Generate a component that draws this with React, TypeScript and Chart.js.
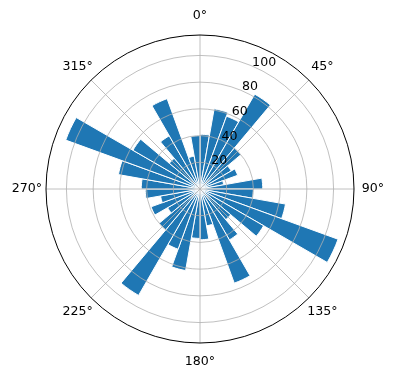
import React, { useEffect, useRef } from "react";
import { Chart, registerables } from "chart.js";

Chart.register(...registerables);

// 36 direction bins, 10° wide, starting at 0° (north), clockwise
const binStarts: number[] = [
  0, 10, 20, 30, 40, 50, 60, 70, 80, 90, 100, 110,
  120, 130, 140, 150, 160, 170, 180, 190, 200, 210, 220, 230,
  240, 250, 260, 270, 280, 290, 300, 310, 320, 330, 340, 350,
];
const counts: number[] = [
  41, 61, 58, 82, 40, 27, 30, 18, 47, 40, 65, 110,
  55, 30, 44, 75, 28, 38, 37, 62, 48, 92, 40, 28,
  39, 30, 41, 44, 62, 107, 58, 30, 46, 72, 25, 40,
];
const radialTicks: number[] = [20, 40, 60, 80, 100];
const angleTicks: number[] = [0, 45, 90, 135, 180, 225, 270, 315];
const angleTickLabels: string[] = ["0°", "45°", "90°", "135°", "180°", "225°", "270°", "315°"];
const rMax = 115.3;
const rLabelAngle = 22.5;

const FONT = '12.6px "DejaVu Sans", sans-serif';

export default function App() {
  const ref = useRef<HTMLCanvasElement>(null);

  useEffect(() => {
    const canvas = ref.current;
    if (!canvas) return;

    const polarDecor = {
      id: "polarDecor",
      afterDatasetsDraw(chart: any) {
        const s = chart.scales.r;
        const ctx = chart.ctx;
        const R = s.getDistanceFromCenterForValue(rMax);
        ctx.save();
        ctx.strokeStyle = "#b0b0b0";
        ctx.lineWidth = 0.8;
        for (const a of angleTicks) {
          const t = (a * Math.PI) / 180;
          ctx.beginPath();
          ctx.moveTo(s.xCenter, s.yCenter);
          ctx.lineTo(s.xCenter + R * Math.sin(t), s.yCenter - R * Math.cos(t));
          ctx.stroke();
        }
        ctx.restore();
      },
      afterDraw(chart: any) {
        const s = chart.scales.r;
        const ctx = chart.ctx;
        const R = s.getDistanceFromCenterForValue(rMax);
        ctx.save();
        ctx.font = FONT;
        ctx.fillStyle = "#000";
        // radial tick labels along 22.5°
        ctx.textAlign = "left";
        ctx.textBaseline = "alphabetic";
        const tl = (rLabelAngle * Math.PI) / 180;
        for (const v of radialTicks) {
          const r = s.getDistanceFromCenterForValue(v);
          ctx.fillText(String(v), s.xCenter + r * Math.sin(tl) + 1, s.yCenter - r * Math.cos(tl));
        }
        // angle labels
        ctx.textAlign = "center";
        ctx.textBaseline = "middle";
        angleTicks.forEach((a, i) => {
          const t = (a * Math.PI) / 180;
          const r = R + 19;
          ctx.fillText(angleTickLabels[i], s.xCenter + r * Math.sin(t), s.yCenter - r * Math.cos(t));
        });
        ctx.restore();
      },
    };

    const chart = new Chart(canvas, {
      type: "polarArea",
      data: {
        labels: binStarts.map((d) => `${d}°`),
        datasets: [
          {
            data: counts,
            backgroundColor: "#1f77b4",
            borderColor: "#ffffff",
            borderWidth: 1,
          },
        ],
      },
      options: {
        responsive: false,
        animation: false,
        layout: { padding: { left: 46, right: 42, top: 35, bottom: 37 } },
        plugins: {
          legend: { display: false },
          tooltip: { enabled: false },
        },
        scales: {
          r: {
            min: 0,
            max: rMax,
            startAngle: 0,
            z: 1,
            ticks: { display: false, stepSize: 20, z: 1 },
            grid: {
              circular: true,
              z: 1,
              color: (c: any) => (c.tick && c.tick.value >= rMax - 0.01 ? "#000000" : "#b0b0b0"),
              lineWidth: (c: any) => (c.tick && c.tick.value >= rMax - 0.01 ? 1 : 0.8),
            },
            angleLines: { display: false },
            pointLabels: { display: false },
          },
        },
      } as any,
      plugins: [polarDecor],
    });

    return () => chart.destroy();
  }, []);

  return (
    <div style={{ position: "absolute", left: 0, top: 0, width: 396, height: 380, background: "#fff" }}>
      <canvas ref={ref} width={396} height={380} style={{ display: "block" }} />
    </div>
  );
}
